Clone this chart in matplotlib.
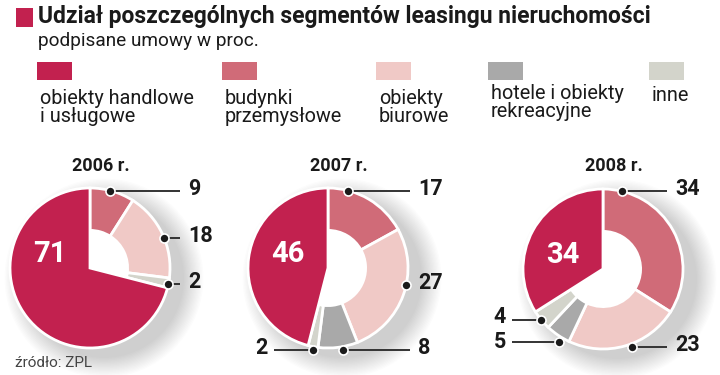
import numpy as np
import matplotlib.pyplot as plt
from matplotlib.patches import Rectangle, Circle

# categories (legend order) and colours
categories = ["obiekty handlowe\ni usługowe", "budynki\nprzemysłowe", "obiekty\nbiurowe",
              "hotele i obiekty\nrekreacyjne", "inne"]
colors = ["#C2214F", "#D06B78", "#F0C9C6", "#A9A9A9", "#D3D4CB"]
years = ["2006 r.", "2007 r.", "2008 r."]

# shares in %, per year
handlowe = [71, 46, 34]
przemyslowe = [9, 17, 34]
biurowe = [18, 27, 23]
hotele = [0, 8, 5]
inne = [2, 2, 4]

W, H = 720, 375
R = 80
HOLE = 0.47 * R
centers = [(90, 268), (328, 268), (603, 269)]   # pixel positions, y from top
# dot spot inside each slice: (fraction of slice span, radius, label side, text shift)
label_spots = [
    {1: (0.45, R, "r", 2), 2: (0.55, R, "r", 2), 4: (0.6, R, "r", 2)},
    {1: (0.24, R, "r", 2), 2: (0.42, R, "r", 2), 3: (0.4, R + 3, "r", 2), 4: (0.45, R + 3, "l", 2)},
    {1: (0.11, R, "r", 2), 2: (0.45, R + 3, "r", 2), 3: (0.33, R + 5, "l", 0), 4: (0.5, R, "l", 3)},
]
label_x = [(None, 188), (268, 418), (506, 675)]


def Y(px):
    return H - px


fig = plt.figure(figsize=(7.2, 3.75), dpi=100)
ax = fig.add_axes([0, 0, 1, 1])
plt.rcParams['font.family'] = ['Roboto', 'DejaVu Sans']

for i, (cx, cy) in enumerate(centers):
    cy = Y(cy)
    # soft shadow
    for k in range(16):
        ax.add_patch(Circle((cx + 14, cy - 10), R + k * 1.3, color="black",
                            alpha=0.011, lw=0, zorder=1))
    ax.add_patch(Circle((cx, cy), R - 2, color="white", lw=0, zorder=2))

    vals = [przemyslowe[i], biurowe[i], hotele[i], inne[i], handlowe[i]]
    cidx = [1, 2, 3, 4, 0]
    keep = [j for j, v in enumerate(vals) if v > 0]
    wedges, _ = ax.pie([vals[j] for j in keep], colors=[colors[cidx[j]] for j in keep],
                       startangle=90, counterclock=False, radius=R, center=(cx, cy),
                       wedgeprops=dict(width=R - HOLE, edgecolor="white", linewidth=2))
    for w in wedges:
        w.set_zorder(3)
    wedges[-1].set_width(None)  # main segment is a full slice

    # leader labels
    total = sum(vals)
    start = 0.0
    for j, v in enumerate(vals[:4]):
        span = 360.0 * v / total
        cat = cidx[j]
        if v > 0 and cat in label_spots[i]:
            t, r, side, shift = label_spots[i][cat]
            ang = np.radians(start + t * span)
            dx, dy = cx + r * np.sin(ang), cy + r * np.cos(ang)
            tx = label_x[i][1] if side == "r" else label_x[i][0]
            lx = tx - 8 if side == "r" else tx + 6
            ax.plot([dx, lx], [dy, dy], color="#333333", lw=1.4, zorder=4,
                    solid_capstyle="butt")
            ax.plot(dx, dy, "o", ms=6.5, color="#1a1a1a", mec="white", mew=1.2, zorder=5)
            ax.text(tx, dy + shift, str(v), ha="left" if side == "r" else "right",
                    va="center", fontsize=15.5, fontweight="bold", color="#1a1a1a", zorder=5)
        start += span

    ax.text(cx - 40, cy + 14, str(handlowe[i]), ha="center", va="center",
            fontsize=21, fontweight="bold", color="white", zorder=6)
    ax.text(cx + 11, Y(166), years[i], ha="center", va="center",
            fontsize=13, fontweight="bold", color="#1a1a1a", zorder=6)

# title and subtitle
ax.add_patch(Rectangle((16, Y(27)), 17, 19, color=colors[0], lw=0))
ax.text(38, Y(17), "Udział poszczególnych segmentów leasingu nieruchomości",
        ha="left", va="center", fontsize=16.5, fontweight="bold", color="#1a1a1a")
ax.text(38, Y(41), "podpisane umowy w proc.", ha="left", va="center",
        fontsize=13.7, color="#1a1a1a")

# legend
legend_x = [37, 222, 376, 488, 649]
legend_dy = [0, 0, 0, -5, -3]
for k, lab in enumerate(categories):
    ax.add_patch(Rectangle((legend_x[k], Y(80)), 35, 18, color=colors[k], lw=0))
    ax.text(legend_x[k] + 3, Y(89 + legend_dy[k]), lab, ha="left", va="top",
            fontsize=14.3, color="#1a1a1a", linespacing=0.92)

ax.text(15, Y(363), "źródło: ZPL", ha="left", va="center", fontsize=11, color="#444444")

ax.set_xlim(0, W)
ax.set_ylim(0, H)
ax.set_aspect("equal")
ax.axis("off")
fig.savefig("out.png", dpi=100, facecolor="white")
